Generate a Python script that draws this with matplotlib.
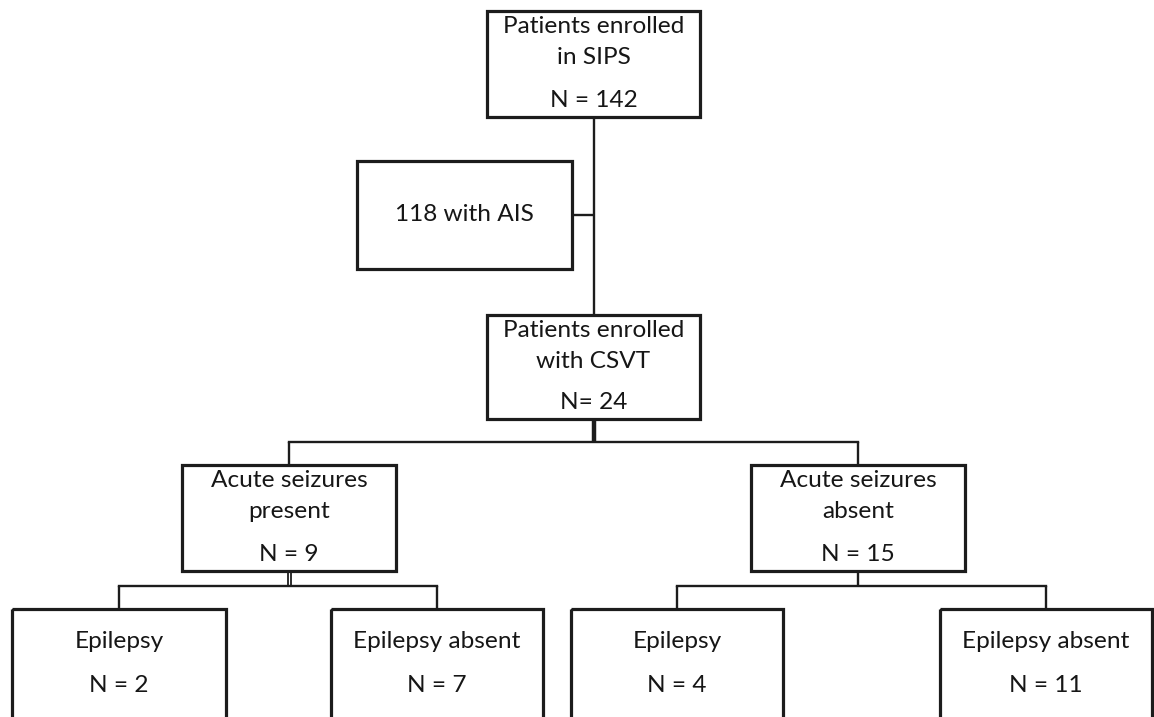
import matplotlib
matplotlib.use("Agg")
import matplotlib.pyplot as plt
import matplotlib.patches as mpatches

# flowchart content
titles = [
    ["Patients enrolled", "in SIPS"],
    ["Patients enrolled", "with CSVT"],
    ["Acute seizures", "present"],
    ["Acute seizures", "absent"],
    ["Epilepsy"],
    ["Epilepsy absent"],
    ["Epilepsy"],
    ["Epilepsy absent"],
]
counts = [142, 24, 9, 15, 2, 7, 4, 11]
n_fmt = ["N = {}", "N= {}", "N = {}", "N = {}", "N = {}", "N = {}", "N = {}", "N = {}"]
excluded_label = "118 with AIS"

# layout: box (left, top, right, bottom) in pixel coords
boxes = [
    (487, 11, 700, 117),
    (487, 315, 700, 419),
    (182, 465, 396, 571),
    (751, 465, 965, 571),
    (12, 609, 226, 730),
    (331, 609, 543, 730),
    (571, 609, 783, 730),
    (940, 609, 1152, 730),
]
excl_box = (357, 161, 572, 269)
children = {1: [2, 3], 2: [4, 5], 3: [6, 7]}
split_y = {1: 442, 2: 586, 3: 586}

FONT = "Lato"
FS = 17.6
EC = "#1c1c1c"
TC = "#161616"

fig = plt.figure(figsize=(11.54, 7.17), dpi=100)
ax = fig.add_axes([0, 0, 1, 1])
ax.set_xlim(0, 1154)
ax.set_ylim(717, 0)
ax.axis("off")


def cx(b):
    return (b[0] + b[2]) / 2


def draw_box(b):
    ax.add_patch(mpatches.Rectangle((b[0], b[1]), b[2] - b[0], b[3] - b[1],
                                    fill=False, lw=2.3, ec=EC, zorder=3))


def txt(x, y, s):
    ax.text(x, y, s, ha="center", va="baseline", fontsize=FS, family=FONT, color=TC)


for i, b in enumerate(boxes):
    draw_box(b)
    lines = titles[i]
    nlab = n_fmt[i].format(counts[i])
    if len(lines) == 2:
        txt(cx(b), b[1] + 22, lines[0])
        txt(cx(b), b[1] + 53, lines[1])
        txt(cx(b), b[3] - 10, nlab)
    else:
        txt(cx(b), b[1] + 39, lines[0])
        txt(cx(b), b[1] + 83, nlab)

# exclusion box
draw_box(excl_box)
txt(cx(excl_box), 221, excluded_label)

# main trunk top -> CSVT
x0 = cx(boxes[0])
ax.plot([x0, x0], [boxes[0][3], boxes[1][1]], color=EC, lw=1.7, solid_capstyle="butt")
ey = (excl_box[1] + excl_box[3]) / 2
ax.plot([excl_box[2], x0], [ey, ey], color=EC, lw=1.7, solid_capstyle="butt")

# splits
for p, kids in children.items():
    pb = boxes[p]
    y = split_y[p]
    px = cx(pb)
    if p == 1:
        ax.plot([px, px], [pb[3], y], color=EC, lw=3.2, solid_capstyle="butt")
    elif p == 2:
        ax.plot([px - 1.5, px - 1.5], [pb[3], y], color=EC, lw=1.3, solid_capstyle="butt")
        ax.plot([px + 1.5, px + 1.5], [pb[3], y], color=EC, lw=1.3, solid_capstyle="butt")
    else:
        ax.plot([px, px], [pb[3], y], color=EC, lw=1.7, solid_capstyle="butt")
    xs = [cx(boxes[k]) for k in kids]
    ax.plot([min(xs), max(xs)], [y, y], color=EC, lw=1.7, solid_capstyle="projecting")
    for k in kids:
        ax.plot([cx(boxes[k]), cx(boxes[k])], [y, boxes[k][1]], color=EC, lw=1.7, solid_capstyle="butt")

fig.savefig("out.png", dpi=100, facecolor="white")
